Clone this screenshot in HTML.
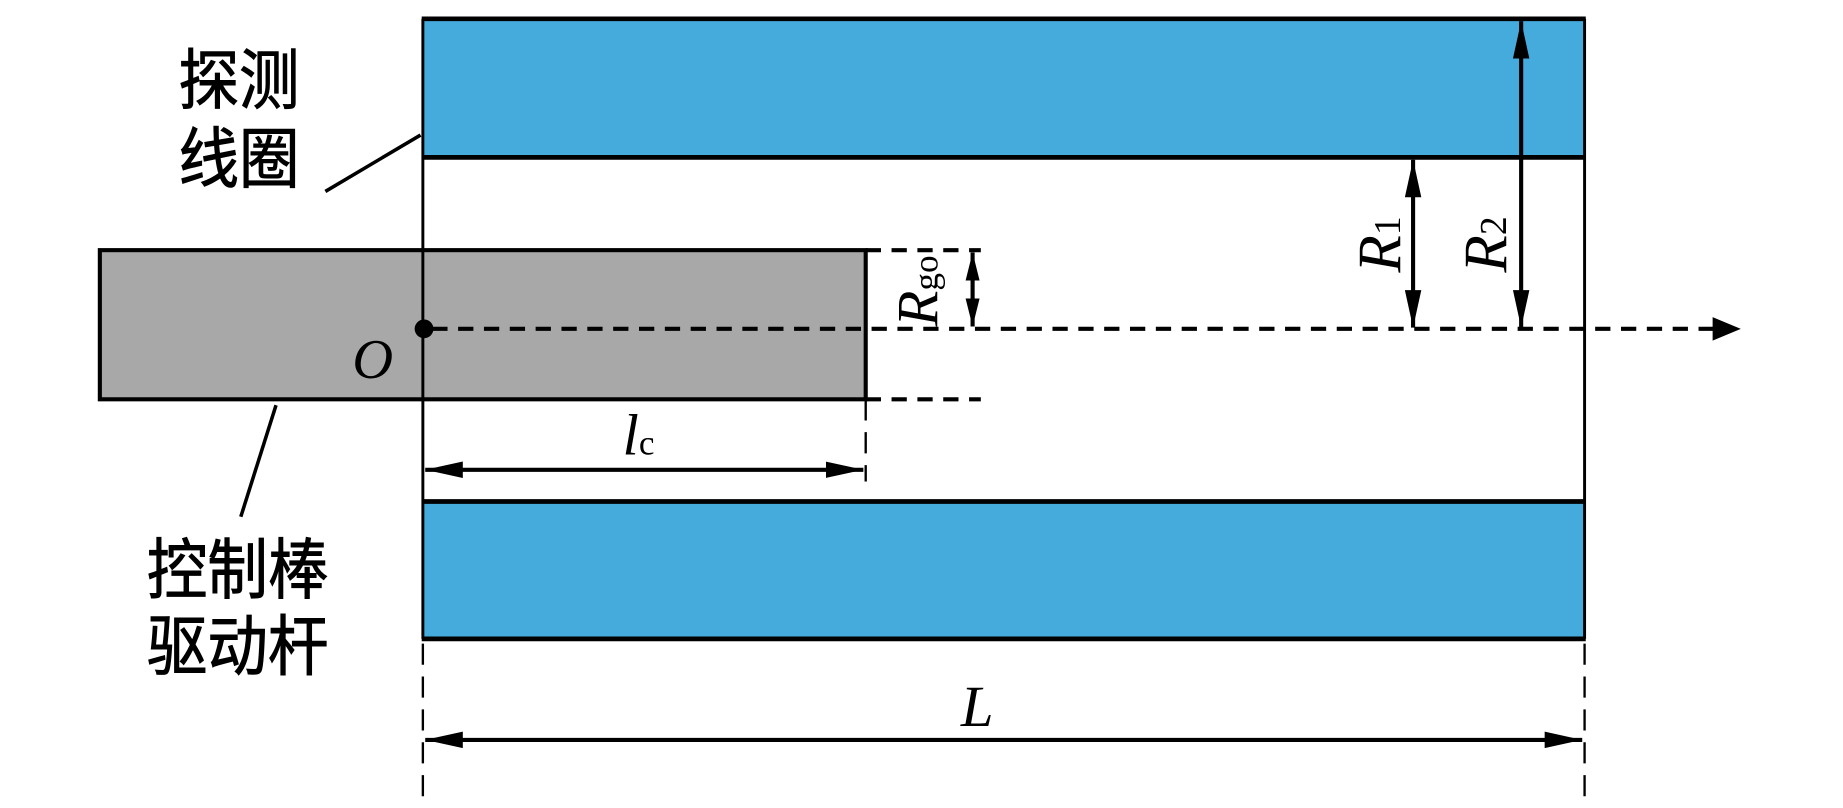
<!DOCTYPE html>
<html><head><meta charset="utf-8"><style>
html,body{margin:0;padding:0;background:#fff;width:1843px;height:808px;overflow:hidden}
svg{display:block}
text{font-family:"Liberation Serif","Noto Serif CJK SC",serif;}
.cn{font-family:"Liberation Sans","Noto Sans CJK SC",sans-serif;font-size:56px;}
</style></head><body>
<svg width="1843" height="808" viewBox="0 0 1569 688" preserveAspectRatio="none" xmlns="http://www.w3.org/2000/svg">
<defs>
<marker id="a" viewBox="0 0 24 12" refX="24" refY="6" markerWidth="24" markerHeight="12" markerUnits="userSpaceOnUse" orient="auto-start-reverse">
<path d="M0,0 L24,6 L0,12 Z" fill="#000"/></marker>
<marker id="b" viewBox="0 0 32 14" refX="32" refY="7" markerWidth="32" markerHeight="14" markerUnits="userSpaceOnUse" orient="auto-start-reverse">
<path d="M0,0 L32,7 L0,14 Z" fill="#000"/></marker>
</defs>
<rect x="360" y="16" width="989" height="118" fill="#45aadc"/>
<rect x="360" y="427" width="989" height="117" fill="#45aadc"/>
<g stroke="#000" stroke-width="4">
<line x1="359" y1="16" x2="1350" y2="16"/><line x1="359" y1="134" x2="1350" y2="134"/>
<line x1="359" y1="427" x2="1350" y2="427"/><line x1="359" y1="544" x2="1350" y2="544"/>
</g>
<rect x="85" y="213" width="652" height="127" fill="#a8a8a8" stroke="#000" stroke-width="3.5"/>
<g stroke="#000" stroke-width="2.5">
<line x1="360" y1="16" x2="360" y2="544"/><line x1="1349" y1="16" x2="1349" y2="544"/>
</g>
<g stroke="#000" stroke-width="3.5" stroke-dasharray="13,9" fill="none">
<line x1="368" y1="280" x2="1465" y2="280"/>
<line x1="737" y1="213" x2="835" y2="213"/>
<line x1="737" y1="340" x2="835" y2="340"/>
</g>
<g stroke="#000" stroke-width="2" stroke-dasharray="18,10" fill="none">
<line x1="737" y1="340" x2="737" y2="410"/>
<line x1="360" y1="548" x2="360" y2="688"/>
<line x1="1349" y1="548" x2="1349" y2="688"/>
</g>
<path d="M1458,270 L1482,280 L1458,290 Z" fill="#000"/>
<circle cx="361" cy="280" r="8" fill="#000"/>
<g stroke="#000" stroke-width="3.5">
<line x1="828" y1="215" x2="828" y2="278" marker-start="url(#a)" marker-end="url(#a)"/>
<line x1="1203" y1="136" x2="1203" y2="279" marker-start="url(#b)" marker-end="url(#b)"/>
<line x1="1295" y1="18" x2="1295" y2="279" marker-start="url(#b)" marker-end="url(#b)"/>
<line x1="362" y1="400" x2="735" y2="400" marker-start="url(#b)" marker-end="url(#b)"/>
<line x1="362" y1="630" x2="1347" y2="630" marker-start="url(#b)" marker-end="url(#b)"/>
</g>
<g stroke="#000" stroke-width="3">
<line x1="277" y1="163" x2="358" y2="115"/>
<line x1="235" y1="345" x2="205" y2="440"/>
</g>
<g transform="translate(152,0) scale(0.92,1)"><text class="cn" x="0" y="88" stroke="#000" stroke-width="0.8">探测</text>
<text class="cn" x="0" y="155" stroke="#000" stroke-width="0.8">线圈</text></g>
<g transform="translate(125,0) scale(0.92,1)"><text class="cn" x="0" y="505" stroke="#000" stroke-width="0.8">控制棒</text>
<text class="cn" x="0" y="570" stroke="#000" stroke-width="0.8">驱动杆</text></g>
<text x="300" y="322" font-size="48" font-style="italic">O</text>
<text x="530" y="387" font-size="50" font-style="italic">l<tspan font-size="30" font-style="normal">c</tspan></text>
<text x="818" y="618" font-size="50" font-style="italic">L</text>
<g transform="translate(798,278) rotate(-90)"><text x="0" y="0" font-size="50" font-style="italic">R<tspan font-size="30" font-style="normal">go</tspan></text></g>
<g transform="translate(1192,232) rotate(-90)"><text x="0" y="0" font-size="52" font-style="italic">R<tspan font-size="32" font-style="normal">1</tspan></text></g>
<g transform="translate(1282,232) rotate(-90)"><text x="0" y="0" font-size="52" font-style="italic">R<tspan font-size="32" font-style="normal">2</tspan></text></g>
</svg>
</body></html>
